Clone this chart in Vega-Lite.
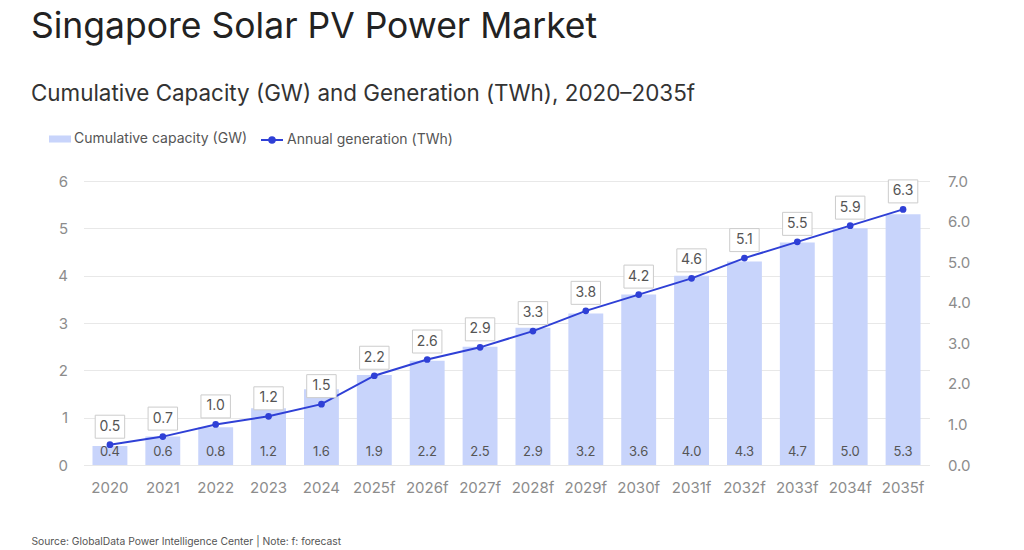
{
  "$schema": "https://vega.github.io/schema/vega-lite/v6.json",
  "autosize": {"type": "none"},
  "width": 846,
  "height": 284,
  "padding": {"left": 83.5, "top": 181, "right": 94.5, "bottom": 85},
  "background": "white",
  "title": {
    "text": "Singapore Solar PV Power Market",
    "subtitle": "Cumulative Capacity (GW) and Generation (TWh), 2020–2035f",
    "anchor": "start",
    "frame": "group",
    "dx": -52.5,
    "font": "Inter",
    "fontSize": 35.5,
    "fontWeight": "normal",
    "color": "#222222",
    "subtitleFont": "Inter",
    "subtitleFontSize": 22.4,
    "subtitleColor": "#333333",
    "subtitlePadding": 37,
    "offset": 23
  },
  "data": {
    "values": [
      {"year": "2020", "capacity": 0.4, "generation": 0.5},
      {"year": "2021", "capacity": 0.6, "generation": 0.7},
      {"year": "2022", "capacity": 0.8, "generation": 1.0},
      {"year": "2023", "capacity": 1.2, "generation": 1.2},
      {"year": "2024", "capacity": 1.6, "generation": 1.5},
      {"year": "2025f", "capacity": 1.9, "generation": 2.2},
      {"year": "2026f", "capacity": 2.2, "generation": 2.6},
      {"year": "2027f", "capacity": 2.5, "generation": 2.9},
      {"year": "2028f", "capacity": 2.9, "generation": 3.3},
      {"year": "2029f", "capacity": 3.2, "generation": 3.8},
      {"year": "2030f", "capacity": 3.6, "generation": 4.2},
      {"year": "2031f", "capacity": 4.0, "generation": 4.6},
      {"year": "2032f", "capacity": 4.3, "generation": 5.1},
      {"year": "2033f", "capacity": 4.7, "generation": 5.5},
      {"year": "2034f", "capacity": 5.0, "generation": 5.9},
      {"year": "2035f", "capacity": 5.3, "generation": 6.3}
    ]
  },
  "encoding": {
    "x": {
      "field": "year",
      "type": "nominal",
      "sort": null,
      "scale": {"paddingInner": 0.34, "paddingOuter": 0.17},
      "axis": {
        "title": "Source: GlobalData Power Intelligence Center | Note: f: forecast",
        "titleAnchor": "start",
        "titleAlign": "left",
        "titleX": -52.5,
        "titleY": 79,
        "titleBaseline": "alphabetic",
        "titleFont": "Inter",
        "titleFontSize": 10.3,
        "titleFontWeight": "normal",
        "titleColor": "#555555",
        "labelAngle": 0,
        "labelFont": "Inter",
        "labelFontSize": 15,
        "labelColor": "#8c8c8c",
        "labelPadding": 15,
        "ticks": false,
        "domain": false
      }
    }
  },
  "layer": [
    {
      "layer": [
        {
          "mark": {"type": "bar", "color": "#c8d4fb"},
          "encoding": {
            "y": {
              "field": "capacity",
              "type": "quantitative",
              "scale": {"domain": [0, 6], "nice": false},
              "axis": {
                "title": null,
                "values": [0, 1, 2, 3, 4, 5, 6],
                "grid": true,
                "gridColor": "#e8e8e8",
                "domain": false,
                "ticks": false,
                "labelFont": "Inter",
                "labelFontSize": 15,
                "labelColor": "#8c8c8c",
                "labelPadding": 16
              }
            },
            "fill": {
              "datum": "Cumulative capacity (GW)",
              "type": "nominal",
              "scale": {"range": ["#c8d4fb"]},
              "legend": {
                "orient": "none",
                "legendX": -34.5,
                "legendY": -53,
                "title": null,
                "padding": 0,
                "symbolType": "M-1,-0.32H1V0.32H-1Z",
                "symbolSize": 484,
                "symbolStrokeWidth": 0,
                "labelFont": "Inter",
                "labelFontSize": 14,
                "labelColor": "#555555",
                "labelOffset": 3,
                "labelLimit": 400
              }
            }
          }
        },
        {
          "mark": {"type": "text", "font": "Inter", "fontSize": 13, "color": "#555555", "baseline": "alphabetic", "dy": -9},
          "encoding": {
            "y": {"datum": 0, "type": "quantitative"},
            "text": {"field": "capacity", "type": "quantitative", "format": ".1f"}
          }
        }
      ]
    },
    {
      "layer": [
        {
          "mark": {"type": "line", "color": "#2f40d6", "strokeWidth": 2},
          "encoding": {
            "y": {
              "field": "generation",
              "type": "quantitative",
              "scale": {"domain": [0, 7], "nice": false},
              "axis": {
                "orient": "right",
                "title": null,
                "values": [0, 1, 2, 3, 4, 5, 6, 7],
                "format": ".1f",
                "grid": false,
                "domain": false,
                "ticks": false,
                "labelFont": "Inter",
                "labelFontSize": 15,
                "labelColor": "#8c8c8c",
                "labelPadding": 18
              }
            },
            "stroke": {
              "datum": "Annual generation (TWh)",
              "type": "nominal",
              "scale": {"range": ["#2f40d6"]},
              "legend": {
                "orient": "none",
                "legendX": 176.5,
                "legendY": -53,
                "title": null,
                "padding": 0,
                "symbolType": "M-1,0H1M-0.25,0A0.25,0.25 0 1 1 0.25,0A0.25,0.25 0 1 1 -0.25,0",
                "symbolSize": 484,
                "symbolStrokeWidth": 2,
                "symbolFillColor": "#2f40d6",
                "labelFont": "Inter",
                "labelFontSize": 14,
                "labelColor": "#555555",
                "labelOffset": 3,
                "labelLimit": 400
              }
            }
          }
        },
        {
          "mark": {"type": "point", "filled": true, "color": "#2f40d6", "size": 45, "opacity": 1},
          "encoding": {
            "y": {"field": "generation", "type": "quantitative"}
          }
        },
        {
          "mark": {
            "type": "point",
            "shape": "M-1.28,-1H1.28V1H-1.28Z",
            "size": 529,
            "filled": false,
            "fill": "white",
            "fillOpacity": 1,
            "stroke": "#cccccc",
            "strokeWidth": 1,
            "opacity": 1,
            "yOffset": -18
          },
          "encoding": {
            "y": {"field": "generation", "type": "quantitative"}
          }
        },
        {
          "mark": {"type": "text", "font": "Inter", "fontSize": 14, "color": "#555555", "baseline": "middle", "dy": -18},
          "encoding": {
            "y": {"field": "generation", "type": "quantitative"},
            "text": {"field": "generation", "type": "quantitative", "format": ".1f"}
          }
        }
      ]
    }
  ],
  "resolve": {"scale": {"y": "independent"}},
  "config": {
    "view": {"stroke": null}
  }
}
